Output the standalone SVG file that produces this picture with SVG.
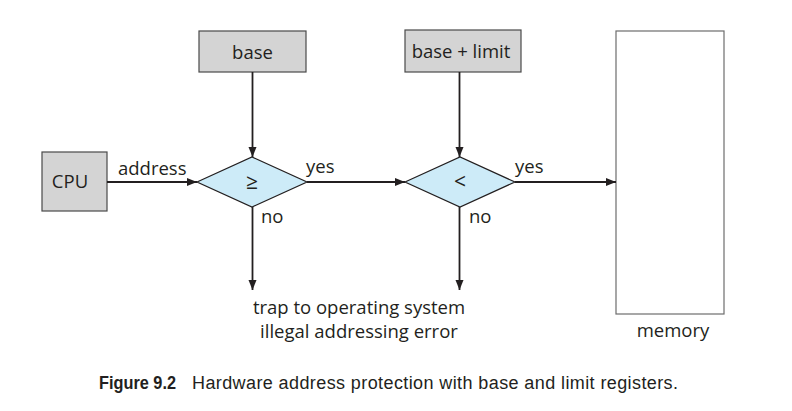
<svg xmlns="http://www.w3.org/2000/svg" width="792" height="411" viewBox="0 0 792 411">
<defs>
<marker id="ah" viewBox="0 0 10 10" refX="10" refY="5" markerWidth="10" markerHeight="10" markerUnits="userSpaceOnUse" orient="auto">
<path d="M0,1 L10,5 L0,9 Z" fill="#231f20"/>
</marker>
<style>
.reg{fill:#d4d4d4;stroke:#4a4a4a;stroke-width:1.2}
.dia{fill:#cdebf8;stroke:#231f20;stroke-width:1.2}
.mem{fill:#fff;stroke:#6d6d6d;stroke-width:1.2}
.lbl{font-family:"Open Sans","Liberation Sans",sans-serif;font-size:18.5px;fill:#231f20}
.sym{font-size:21px}
.cap{font-family:"Liberation Sans",Arial,sans-serif;font-size:18px;fill:#231f20}
.con{stroke:#231f20;stroke-width:1.8;fill:none;marker-end:url(#ah)}
</style>
</defs>
<rect width="792" height="411" fill="#fff"/>
<g id="base"><rect class="reg" x="199" y="31" width="107" height="41"/><text class="lbl" x="252.5" y="59" text-anchor="middle">base</text></g>
<g id="baselimit"><rect class="reg" x="405" y="30" width="116" height="42"/><text class="lbl" x="461" y="58" text-anchor="middle">base + limit</text></g>
<g id="cpu"><rect class="reg" x="42" y="152" width="65" height="59"/><text class="lbl" x="70" y="188" text-anchor="middle">CPU</text></g>
<g id="cmp1"><polygon class="dia" points="197,182 252,157 307,182 252,207"/><text class="lbl sym" x="252" y="189" text-anchor="middle">≥</text></g>
<g id="cmp2"><polygon class="dia" points="405,182 460,157 515,182 460,207"/><text class="lbl sym" x="460" y="189" text-anchor="middle">&lt;</text></g>
<g id="memory"><rect class="mem" x="616" y="31" width="108" height="283"/><text class="lbl" x="673" y="337" text-anchor="middle">memory</text></g>
<g id="trap"><text class="lbl" x="359" y="314" text-anchor="middle">trap to operating system</text><text class="lbl" x="359" y="338" text-anchor="middle">illegal addressing error</text></g>
<g id="connectors">
<line class="con" x1="252.5" y1="72" x2="252.5" y2="157"/>
<line class="con" x1="459.5" y1="72" x2="459.5" y2="157"/>
<line class="con" x1="107" y1="182" x2="197" y2="182"/>
<line class="con" x1="307" y1="182" x2="405" y2="182"/>
<line class="con" x1="515" y1="182" x2="616" y2="182"/>
<line class="con" x1="252.5" y1="207" x2="252.5" y2="290"/>
<line class="con" x1="459.5" y1="207" x2="459.5" y2="290"/>
<text class="lbl" x="118" y="175">address</text>
<text class="lbl" x="306" y="173">yes</text>
<text class="lbl" x="515" y="173">yes</text>
<text class="lbl" x="261" y="223">no</text>
<text class="lbl" x="469" y="223">no</text>
</g>
<text class="cap" x="99" y="389" font-weight="bold" textLength="77" lengthAdjust="spacingAndGlyphs">Figure 9.2</text>
<text class="cap" x="192" y="389" textLength="486" lengthAdjust="spacing">Hardware address protection with base and limit registers.</text>
</svg>
